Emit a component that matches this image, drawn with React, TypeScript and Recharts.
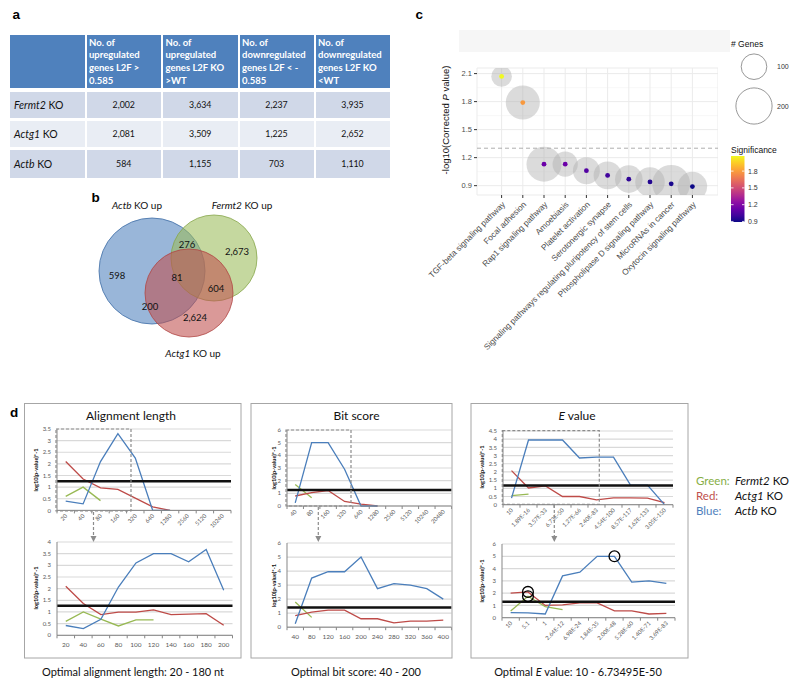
import React from "react";
import {
  LineChart,
  Line,
  XAxis,
  YAxis,
  CartesianGrid,
  ReferenceLine,
  ScatterChart,
  Scatter,
} from "recharts";

const XL = "Lato, 'Open Sans', sans-serif";
const GG = "'Liberation Sans', Arial, sans-serif";
const AXIS = "#868686";
const LINE_GREEN = "#98B954";
const LINE_RED = "#BE4B48";
const LINE_BLUE = "#4A7EBB";

// ---- a: table
const tableHeaders = [
  ["No. of", "upregulated", "genes L2F >", "0.585"],
  ["No. of", "upregulated", "genes L2F KO", ">WT"],
  ["No. of", "downregulated", "genes L2F < -", "0.585"],
  ["No. of", "downregulated", "genes L2F KO", "<WT"],
];
const tableGenes = ["Fermt2", "Actg1", "Actb"];
const upL2F = [2002, 2081, 584];
const upKO = [3634, 3509, 1155];
const downL2F = [2237, 1225, 703];
const downKO = [3935, 2652, 1110];

// ---- b: venn
const vennSets = ["Actb", "Fermt2", "Actg1"];
const vennCounts = [598, 276, 2673, 81, 200, 604, 2624]; // Actb, Actb+Fermt2, Fermt2, all, Actb+Actg1, Fermt2+Actg1, Actg1

// ---- c: KEGG bubbles
const pathways = [
  "TGF-beta signaling pathway",
  "Focal adhesion",
  "Rap1 signaling pathway",
  "Amoebiasis",
  "Platelet activation",
  "Serotonergic synapse",
  "Signaling pathways regulating pluripotency of stem cells",
  "Phospholipase D signaling pathway",
  "MicroRNAs in cancer",
  "Oxytocin signaling pathway",
];
const significance = [2.07, 1.79, 1.13, 1.13, 1.06, 1.01, 0.97, 0.94, 0.92, 0.89];
const geneCounts = [65, 177, 187, 97, 111, 119, 116, 133, 218, 133];
const sigTicks = [0.9, 1.2, 1.5, 1.8, 2.1];
const sigMinor = [1.05, 1.35, 1.65, 1.95];
const sigBarTicks = [0.9, 1.2, 1.5, 1.8];
const geneLegend = [100, 200];

// ---- d: BLAST parameter scans
const alignTopCats = ["20", "40", "80", "160", "320", "640", "1280", "2560", "5120", "10240"];
const alignTopGreen = [0.6, 1.0, 0.42];
const alignTopRed = [2.1, 1.35, 0.97, 0.9, 0.53, 0.15, 0];
const alignTopBlue = [0.4, 0.28, 2.1, 3.3, 2.25, 0, 0];
const alignTopTicks = [0, 0.5, 1, 1.5, 2, 2.5, 3, 3.5];

const alignBotCats = ["20", "40", "60", "80", "100", "120", "140", "160", "180", "200"];
const alignBotGreen = [0.6, 1.0, 0.69, 0.4, 0.66, 0.66];
const alignBotRed = [2.1, 1.36, 0.89, 0.99, 0.99, 1.09, 0.89, 0.91, 0.93, 0.43];
const alignBotBlue = [0.42, 0.29, 0.69, 2.07, 3.1, 3.5, 3.5, 3.15, 3.68, 1.93];
const alignBotTicks = [0, 0.5, 1, 1.5, 2, 2.5, 3, 3.5, 4];

const bitTopCats = ["40", "80", "160", "320", "640", "1280", "2560", "5120", "10240", "20480"];
const bitTopGreen = [1.7, 0.65];
const bitTopRed = [0.79, 1.05, 1.22, 0.36, 0.15, 0];
const bitTopBlue = [0.25, 5, 5, 2.9, 0, 0];

const bitBotCats = ["40", "80", "120", "160", "200", "240", "280", "320", "360", "400"];
const bitBotGreen = [1.8, 0.7];
const bitBotRed = [0.83, 1.07, 1.22, 1.22, 0.6, 0.6, 0.31, 0.43, 0.43, 0.5];
const bitBotBlue = [0.25, 3.5, 3.95, 3.95, 5, 2.75, 3.1, 3.0, 2.75, 2.0];
const sixTicks = [0, 1, 2, 3, 4, 5, 6];

const eTopCats = ["10", "1.89E-16", "3.57E-33", "6.73E-50", "1.27E-66", "2.40E-83", "4.54E-100", "8.57E-117", "1.62E-133", "3.05E-150"];
const eTopGreen = [0.55, 0.65];
const eTopRed = [2.08, 1.02, 1.15, 0.5, 0.5, 0.3, 0.42, 0.42, 0.4, 0.12];
const eTopBlue = [0.4, 3.95, 3.95, 3.95, 2.85, 2.9, 2.9, 1.2, 1.2, 0];
const eTopTicks = [0, 0.5, 1, 1.5, 2, 2.5, 3, 3.5, 4, 4.5];

const eBotCats = ["10", "5.1", "1", "2.64E-12", "6.98E-24", "1.84E-35", "2.00E-48", "5.28E-60", "1.40E-71", "3.69E-83"];
const eBotGreen = [0.55, 1.75, 0.9, 0.65];
const eBotRed = [2.0, 2.1, 1.0, 1.05, 1.2, 1.2, 0.55, 0.55, 0.3, 0.35];
const eBotBlue = [0.42, 0.4, 0.3, 3.4, 3.7, 5.0, 5.0, 2.9, 3.0, 2.8];

const legendRows = [
  { name: "Green:", color: "#86AE45", gene: "Fermt2" },
  { name: "Red:", color: "#C0504D", gene: "Actg1" },
  { name: "Blue:", color: "#4F81BD", gene: "Actb" },
];

// ---------- helpers
const plasmaStops = ["#0d0887", "#41049d", "#6a00a8", "#8f0da4", "#b12a90", "#cc4778", "#e16462", "#f2844b", "#fca636", "#fcce25", "#f0f921"];
const hexRgb = (h: string) => [1, 3, 5].map((i) => parseInt(h.slice(i, i + 2), 16));
function plasma(t: number) {
  const c = Math.max(0, Math.min(1, t)) * (plasmaStops.length - 1);
  const i = Math.min(plasmaStops.length - 2, Math.floor(c));
  const f = c - i;
  const a = hexRgb(plasmaStops[i]);
  const b = hexRgb(plasmaStops[i + 1]);
  return `rgb(${a.map((v, k) => Math.round(v + (b[k] - v) * f)).join(",")})`;
}
const sigMin = Math.min(...significance);
const sigMax = Math.max(...significance);
const K = 1.28; // bubble radius per sqrt(gene count)

// ---------- a
function GeneTable() {
  const colX = [10, 86.5, 163, 239.5, 315.5];
  const colW = [75, 74.5, 74.5, 74, 74];
  const rowY = [35, 91.7, 120.7, 150];
  const rowH = [53, 26.3, 26.5, 27.7];
  const rowBg = ["#4F81BD", "#D0D8E8", "#E9EDF4", "#D0D8E8"];
  const cols = [upL2F, upKO, downL2F, downKO];
  const cells: any[] = [];
  colX.forEach((x, c) => {
    cells.push(
      <div key={"h" + c} style={{ position: "absolute", left: x, top: rowY[0], width: colW[c], height: rowH[0], background: rowBg[0], boxSizing: "border-box", padding: "1.5px 2.5px", color: "#fff", fontFamily: XL, fontWeight: 700, fontSize: 9.5, lineHeight: "12.8px" }}>
        {c > 0 && tableHeaders[c - 1].map((l, i) => <div key={i} style={{ whiteSpace: "nowrap" }}>{l}</div>)}
      </div>
    );
  });
  tableGenes.forEach((g, r) => {
    colX.forEach((x, c) => {
      cells.push(
        <div key={r + "-" + c} style={{ position: "absolute", left: x, top: rowY[r + 1], width: colW[c], height: rowH[r + 1], background: rowBg[r + 1], display: "flex", alignItems: "center", justifyContent: c === 0 ? "flex-start" : "center", paddingLeft: c === 0 ? 4 : 0, boxSizing: "border-box", fontFamily: XL, fontSize: c === 0 ? 10.5 : 8.8, color: "#111" }}>
          {c === 0 ? (<span><i>{g}</i> KO</span>) : cols[c - 1][r].toLocaleString("en-US")}
        </div>
      );
    });
  });
  return <>{cells}</>;
}

// ---------- b
function Venn() {
  const circles = [
    { set: vennSets[0], x: 62, y: 81, r: 53, fill: "#4F81BD", stroke: "#3F6DA6" },
    { set: vennSets[1], x: 124, y: 68, r: 43, fill: "#9BBB59", stroke: "#86A64A" },
    { set: vennSets[2], x: 99, y: 103, r: 44, fill: "#C0504D", stroke: "#B04542" },
  ];
  const spots = [[27, 85], [97, 54], [147, 61], [87, 87], [60, 116], [126, 98], [105, 127]];
  const labels = vennCounts.map((n, i) => ({ x: spots[i][0], y: spots[i][1], label: n.toLocaleString("en-US") }));
  return (
    <div style={{ position: "absolute", left: 90, top: 190 }}>
      <ScatterChart width={190} height={170} margin={{ top: 0, right: 0, bottom: 0, left: 0 }}>
        <XAxis type="number" dataKey="x" domain={[0, 190]} hide />
        <YAxis type="number" dataKey="y" domain={[0, 170]} reversed hide />
        <Scatter data={circles} isAnimationActive={false}
          shape={(p: any) => <circle cx={p.cx} cy={p.cy} r={p.payload.r} fill={p.payload.fill} fillOpacity={0.58} stroke={p.payload.stroke} strokeWidth={0.8} />} />
        <Scatter data={labels} isAnimationActive={false}
          shape={(p: any) => <text x={p.cx} y={p.cy} textAnchor="middle" dominantBaseline="central" fontFamily={XL} fontSize={9.5} fill="#111">{p.payload.label}</text>} />
      </ScatterChart>
    </div>
  );
}

// ---------- c
const PathwayTick = (p: any) => {
  const tx = p.x + 4;
  const ty = p.y + 5;
  return (
    <text x={tx} y={ty} transform={`rotate(-45 ${tx} ${ty})`} textAnchor="end" fontSize={8.3} fill="#4D4D4D" fontFamily={GG}>
      {p.payload.value}
    </text>
  );
};

function Bubbles() {
  const data = pathways.map((p, i) => ({ pathway: p, sig: significance[i], genes: geneCounts[i] }));
  return (
    <div style={{ position: "absolute", left: 400, top: 60 }}>
      <ScatterChart width={318} height={295} margin={{ top: 8, right: 0, bottom: 0, left: 0 }}>
        <CartesianGrid vertical={false} horizontalValues={sigMinor} stroke="#F3F3F3" strokeWidth={0.6} />
        <CartesianGrid stroke="#EBEBEB" strokeWidth={1} />
        <XAxis type="category" dataKey="pathway" allowDuplicatedCategory={false} interval={0} padding={{ left: 14, right: 15 }} height={160}
          axisLine={false} tickSize={3} tickMargin={2} tickLine={{ stroke: "#333" }} tick={PathwayTick} />
        <YAxis type="number" dataKey="sig" domain={[0.8, 2.16]} allowDataOverflow ticks={sigTicks} interval={0} width={77}
          axisLine={false} tickSize={3} tickMargin={2} tickLine={{ stroke: "#333" }}
          tick={{ fontSize: 7.5, fill: "#4D4D4D", fontFamily: GG }} />
        <ReferenceLine y={1.301} stroke="#999" strokeDasharray="4 3" strokeWidth={0.8} />
        <Scatter data={data} isAnimationActive={false}
          shape={(p: any) => <circle cx={p.cx} cy={p.cy} r={K * Math.sqrt(p.payload.genes)} fill="#B0B0B0" fillOpacity={0.45} />} />
        <Scatter data={data} isAnimationActive={false}
          shape={(p: any) => <circle cx={p.cx} cy={p.cy} r={2.4} fill={plasma((p.payload.sig - sigMin) / (sigMax - sigMin))} />} />
      </ScatterChart>
    </div>
  );
}

// ---------- d
function ExcelChart({ x0, x1, y0, y1, cats, ticks, green, red, blue, thr, rotated, circled }: any) {
  const n = cats.length;
  const band = (x1 - x0) / n;
  const yw = 26;
  const mt = 5;
  const xh = rotated ? 40 : 16;
  const left = x0 - yw;
  const top = y0 - mt;
  const width = x1 - left + 2;
  const height = y1 - top + xh;
  const data = cats.map((c: string, i: number) => ({ cat: c, green: green[i], red: red[i], blue: blue[i] }));
  const tick = (p: any) => {
    const { x, y, payload, index } = p;
    const tx = x + 2;
    const ty = y + 6;
    return (
      <g>
        <line x1={x - band / 2} x2={x - band / 2} y1={y} y2={y + 3} stroke={AXIS} />
        {index === n - 1 && <line x1={x + band / 2} x2={x + band / 2} y1={y} y2={y + 3} stroke={AXIS} />}
        {rotated ? (
          <text x={tx} y={ty} transform={`rotate(-45 ${tx} ${ty})`} textAnchor="end" fontSize={5.8} fill="#595959" fontFamily={XL}>{payload.value}</text>
        ) : (
          <text x={x} y={y + 11.5} textAnchor="middle" fontSize={6.5} fill="#595959" fontFamily={XL}>{payload.value}</text>
        )}
      </g>
    );
  };
  const dotFor = (key: string) => {
    const idx = circled && circled[key];
    if (!idx) return false;
    return (p: any) =>
      idx.includes(p.index) ? (
        <circle key={key + p.index} cx={p.cx} cy={p.cy} r={5.4} fill="none" stroke="#000" strokeWidth={1.3} />
      ) : (
        <g key={key + p.index} />
      );
  };
  return (
    <div style={{ position: "absolute", left, top }}>
      <LineChart width={width} height={height} data={data} margin={{ top: mt, right: 2, bottom: 0, left: 0 }}>
        <CartesianGrid vertical={false} stroke="#D9D9D9" strokeWidth={1.2} />
        <XAxis dataKey="cat" interval={0} padding={{ left: band / 2, right: band / 2 }} height={xh}
          tickSize={0} tickMargin={0} tickLine={false} axisLine={{ stroke: AXIS }} tick={tick} />
        <YAxis domain={[0, ticks[ticks.length - 1]]} ticks={ticks} interval={0} width={yw}
          tickLine={false} tickSize={0} tickMargin={6} axisLine={{ stroke: AXIS }}
          tick={{ fontSize: 6, fill: "#595959", fontFamily: XL }} />
        <Line dataKey="green" stroke={LINE_GREEN} strokeWidth={1.3} dot={dotFor("green")} activeDot={false} isAnimationActive={false} />
        <Line dataKey="red" stroke={LINE_RED} strokeWidth={1.3} dot={dotFor("red")} activeDot={false} isAnimationActive={false} />
        <Line dataKey="blue" stroke={LINE_BLUE} strokeWidth={1.3} dot={dotFor("blue")} activeDot={false} isAnimationActive={false} />
        <ReferenceLine y={thr} stroke="#111" strokeWidth={2.6} />
      </LineChart>
    </div>
  );
}

const yLab = (x: number, y: number, key: string) => (
  <text key={key} x={x} y={y} transform={`rotate(-90 ${x} ${y})`} textAnchor="middle" dominantBaseline="central" fontFamily={XL} fontWeight={700} fontSize={5.6} fill="#111">
    log10(p-value)*-1
  </text>
);

function Zoombox({ x, y, w, h, ax, ay }: any) {
  return (
    <g>
      <rect x={x} y={y} width={w} height={h} fill="none" stroke="#8C8C8C" strokeWidth={1.2} strokeDasharray="3 2" />
      <line x1={ax} x2={ax} y1={ay} y2={537} stroke="#8C8C8C" strokeWidth={1.2} strokeDasharray="3 2" />
      <polygon points={`${ax - 3},536 ${ax + 3},536 ${ax},542`} fill="#8C8C8C" />
    </g>
  );
}

function Overlay() {
  const barTop = 156;
  const barBot = 222;
  const barY = (v: number) => barBot - ((v - sigMin) / (sigMax - sigMin)) * (barBot - barTop);
  return (
    <svg width={800} height={688} style={{ position: "absolute", left: 0, top: 0, pointerEvents: "none" }}>
      <defs>
        <linearGradient id="plasmaBar" x1="0" y1="1" x2="0" y2="0">
          {plasmaStops.map((c, i) => <stop key={i} offset={i / (plasmaStops.length - 1)} stopColor={c} />)}
        </linearGradient>
      </defs>
      {/* panel letters */}
      <g fontFamily={GG} fontWeight={700} fontSize={13.5} fill="#000">
        <text x={12.5} y={18.5}>a</text>
        <text x={91.5} y={202}>b</text>
        <text x={415.5} y={18.5}>c</text>
        <text x={10} y={417}>d</text>
      </g>

      {/* b set names */}
      <g fontFamily={XL} fontSize={10} fill="#111" textAnchor="middle">
        <text x={137} y={209}><tspan fontStyle="italic">{vennSets[0]}</tspan> KO up</text>
        <text x={242} y={209}><tspan fontStyle="italic">{vennSets[1]}</tspan> KO up</text>
        <text x={193} y={357}><tspan fontStyle="italic">{vennSets[2]}</tspan> KO up</text>
      </g>

      {/* c extras */}
      <rect x={459} y={30} width={271} height={22} fill="#F6F6F6" />
      <text x={445} y={120} transform="rotate(-90 445 120)" textAnchor="middle" dominantBaseline="central" fontFamily={GG} fontSize={9.5} fill="#111">
        -log10(Corrected <tspan fontStyle="italic">P</tspan> value)
      </text>
      <g fontFamily={GG} fill="#111">
        <text x={731} y={46.5} fontSize={8.5}># Genes</text>
        {geneLegend.map((g, i) => {
          const r = K * Math.sqrt(g);
          const cy = i === 0 ? 66.7 : 106;
          return (
            <g key={g}>
              <circle cx={754} cy={cy} r={r} fill="#fff" stroke="#8C8C8C" strokeWidth={0.9} />
              <text x={777} y={cy + 2.5} fontSize={7} fill="#333">{g}</text>
            </g>
          );
        })}
        <text x={731} y={152.5} fontSize={8.5}>Significance</text>
        <rect x={731} y={barTop} width={13.5} height={barBot - barTop} fill="url(#plasmaBar)" />
        {sigBarTicks.map((v) => (
          <g key={v}>
            <line x1={731} x2={733.5} y1={barY(v)} y2={barY(v)} stroke="#fff" strokeWidth={0.8} />
            <line x1={742} x2={744.5} y1={barY(v)} y2={barY(v)} stroke="#fff" strokeWidth={0.8} />
            <text x={748} y={barY(v) + 2.5} fontSize={7} fill="#333">{v.toFixed(1)}</text>
          </g>
        ))}
      </g>

      {/* d frames */}
      <g fill="none" stroke="#A6A6A6" strokeWidth={1}>
        <rect x={24.5} y={403.5} width={216.5} height={254.5} />
        <rect x={251} y={403.5} width={201} height={254.5} />
        <rect x={471} y={403.5} width={217} height={254.5} />
      </g>
      <g fontFamily={XL} fontSize={12} fill="#111" textAnchor="middle">
        <text x={131} y={419.5}>Alignment length</text>
        <text x={356.5} y={419.5}>Bit score</text>
        <text x={577} y={419.5}><tspan fontStyle="italic">E</tspan> value</text>
      </g>
      <g fontFamily={XL} fontSize={11} fill="#111" textAnchor="middle">
        <text x={133} y={675.5}>Optimal alignment length: 20 - 180 nt</text>
        <text x={356} y={675.5}>Optimal bit score: 40 - 200</text>
        <text x={578} y={675.5}>Optimal <tspan fontStyle="italic">E</tspan> value: 10 - 6.73495E-50</text>
      </g>
      {yLab(35, 470, "y1")}
      {yLab(35, 588, "y2")}
      {yLab(273, 468, "y3")}
      {yLab(273, 585.5, "y4")}
      {yLab(481, 467, "y5")}
      {yLab(481, 581, "y6")}
      <Zoombox x={56} y={429} w={75} h={82} ax={93.5} ay={512} />
      <Zoombox x={286} y={430} w={65} h={76} ax={318.3} ay={507} />
      <Zoombox x={502.3} y={430.7} w={97} h={73.6} ax={554.3} ay={505} />
      <g fontFamily={XL} fontSize={11.5}>
        {legendRows.map((r, i) => (
          <g key={r.name}>
            <text x={696} y={485 + i * 15} fill={r.color}>{r.name}</text>
            <text x={735} y={485 + i * 15} fill="#111"><tspan fontStyle="italic">{r.gene}</tspan> KO</text>
          </g>
        ))}
      </g>
    </svg>
  );
}

export default function App() {
  return (
    <div style={{ position: "absolute", left: 0, top: 0, width: 800, height: 688, background: "#fff", overflow: "hidden" }}>
      <GeneTable />
      <Venn />
      <Bubbles />
      <ExcelChart x0={57} x1={231} y0={429.3} y1={510.7} cats={alignTopCats} ticks={alignTopTicks}
        green={alignTopGreen} red={alignTopRed} blue={alignTopBlue} thr={1.25} rotated />
      <ExcelChart x0={57} x1={232.5} y0={541.7} y1={635} cats={alignBotCats} ticks={alignBotTicks}
        green={alignBotGreen} red={alignBotRed} blue={alignBotBlue} thr={1.27} />
      <ExcelChart x0={287} x1={451.5} y0={430} y1={506} cats={bitTopCats} ticks={sixTicks}
        green={bitTopGreen} red={bitTopRed} blue={bitTopBlue} thr={1.26} rotated />
      <ExcelChart x0={287} x1={451.5} y0={543.3} y1={627.5} cats={bitBotCats} ticks={sixTicks}
        green={bitBotGreen} red={bitBotRed} blue={bitBotBlue} thr={1.4} />
      <ExcelChart x0={503} x1={673} y0={430.5} y1={504.2} cats={eTopCats} ticks={eTopTicks}
        green={eTopGreen} red={eTopRed} blue={eTopBlue} thr={1.17} rotated />
      <ExcelChart x0={502} x1={675} y0={544} y1={617.7} cats={eBotCats} ticks={sixTicks}
        green={eBotGreen} red={eBotRed} blue={eBotBlue} thr={1.3} rotated
        circled={{ green: [1], red: [1], blue: [6] }} />
      <Overlay />
    </div>
  );
}
